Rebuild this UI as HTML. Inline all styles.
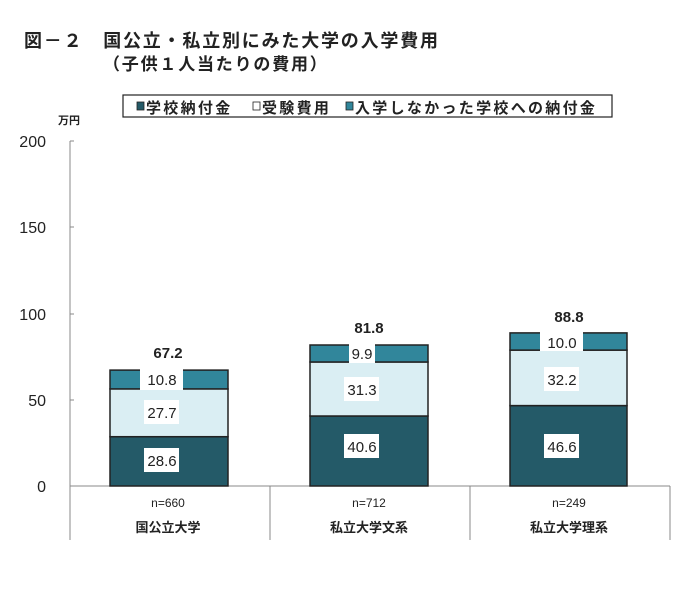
<!DOCTYPE html>
<html><head><meta charset="utf-8"><style>
body{margin:0;background:#fff;width:700px;height:589px;overflow:hidden}
svg text{font-family:"Liberation Sans","Noto Sans CJK JP",sans-serif}
</style></head><body>
<svg width="700" height="589" xmlns="http://www.w3.org/2000/svg">
<text x="24" y="47" font-size="18" font-weight="bold" fill="#222" letter-spacing="1.8">図－２　国公立・私立別にみた大学の入学費用</text>
<text x="103" y="70" font-size="17" font-weight="bold" fill="#222" letter-spacing="1.8">（子供１人当たりの費用）</text>
<rect x="123" y="95" width="489" height="22" fill="#fff" stroke="#222" stroke-width="1.2"/>
<rect x="137" y="102" width="7" height="8" fill="#245a68" stroke="#222" stroke-width="0.8"/>
<text x="146" y="113" font-size="15" font-weight="bold" fill="#222" letter-spacing="2.3">学校納付金</text>
<rect x="253" y="102" width="7" height="8" fill="#fff" stroke="#222" stroke-width="0.8"/>
<text x="262" y="113" font-size="15" font-weight="bold" fill="#222" letter-spacing="2.3">受験費用</text>
<rect x="346" y="102" width="7" height="8" fill="#31869b" stroke="#222" stroke-width="0.8"/>
<text x="355" y="113" font-size="15" font-weight="bold" fill="#222" letter-spacing="2.3">入学しなかった学校への納付金</text>
<text x="58" y="124" font-size="11" font-weight="bold" fill="#222">万円</text>
<g font-size="16" fill="#222" text-anchor="end">
<text x="46" y="147">200</text><text x="46" y="233">150</text><text x="46" y="320">100</text><text x="46" y="406">50</text><text x="46" y="492">0</text>
</g>
<g stroke="#888" stroke-width="1">
<line x1="70" y1="141" x2="70" y2="540"/>
<line x1="70" y1="141" x2="74" y2="141"/><line x1="70" y1="227" x2="74" y2="227"/><line x1="70" y1="314" x2="74" y2="314"/><line x1="70" y1="400" x2="74" y2="400"/>
<line x1="70" y1="486" x2="670" y2="486"/>
<line x1="270" y1="486" x2="270" y2="540"/><line x1="470" y1="486" x2="470" y2="540"/><line x1="670" y1="486" x2="670" y2="540"/>
</g>
<g stroke="#222" stroke-width="1.5">
<rect x="110" y="436.7" width="118" height="49.3" fill="#245a68"/>
<rect x="110" y="388.9" width="118" height="47.8" fill="#daeef3"/>
<rect x="110" y="370.1" width="118" height="18.8" fill="#31869b"/>
<rect x="310" y="416" width="118" height="70" fill="#245a68"/>
<rect x="310" y="362" width="118" height="54" fill="#daeef3"/>
<rect x="310" y="345" width="118" height="17" fill="#31869b"/>
<rect x="510" y="405.6" width="117" height="80.4" fill="#245a68"/>
<rect x="510" y="350.1" width="117" height="55.5" fill="#daeef3"/>
<rect x="510" y="332.9" width="117" height="17.2" fill="#31869b"/>
</g>
<g fill="#fff">
<rect x="144" y="448" width="35" height="24"/><rect x="144" y="400" width="35" height="24"/><rect x="140" y="368" width="43" height="22"/>
<rect x="344" y="434" width="35" height="24"/><rect x="344" y="377" width="35" height="24"/><rect x="349" y="343" width="26" height="20"/>
<rect x="544" y="434" width="35" height="24"/><rect x="544" y="367" width="35" height="24"/><rect x="540" y="331" width="43" height="20"/>
</g>
<g font-size="15" fill="#222" text-anchor="middle" font-family="Liberation Mono">
<text x="162" y="466">28.6</text><text x="162" y="418">27.7</text><text x="162" y="385">10.8</text>
<text x="362" y="452">40.6</text><text x="362" y="395">31.3</text><text x="362" y="359">9.9</text>
<text x="562" y="452">46.6</text><text x="562" y="385">32.2</text><text x="562" y="348">10.0</text>
</g>
<g font-size="15" font-weight="bold" fill="#222" text-anchor="middle">
<text x="168" y="358">67.2</text><text x="369" y="333">81.8</text><text x="569" y="322">88.8</text>
</g>
<g font-size="12" fill="#222" text-anchor="middle">
<text x="168" y="507">n=660</text><text x="369" y="507">n=712</text><text x="569" y="507">n=249</text>
<text x="168" y="532" font-size="13" font-weight="bold">国公立大学</text><text x="369" y="532" font-size="13" font-weight="bold">私立大学文系</text><text x="569" y="532" font-size="13" font-weight="bold">私立大学理系</text>
</g>
</svg>
</body></html>
